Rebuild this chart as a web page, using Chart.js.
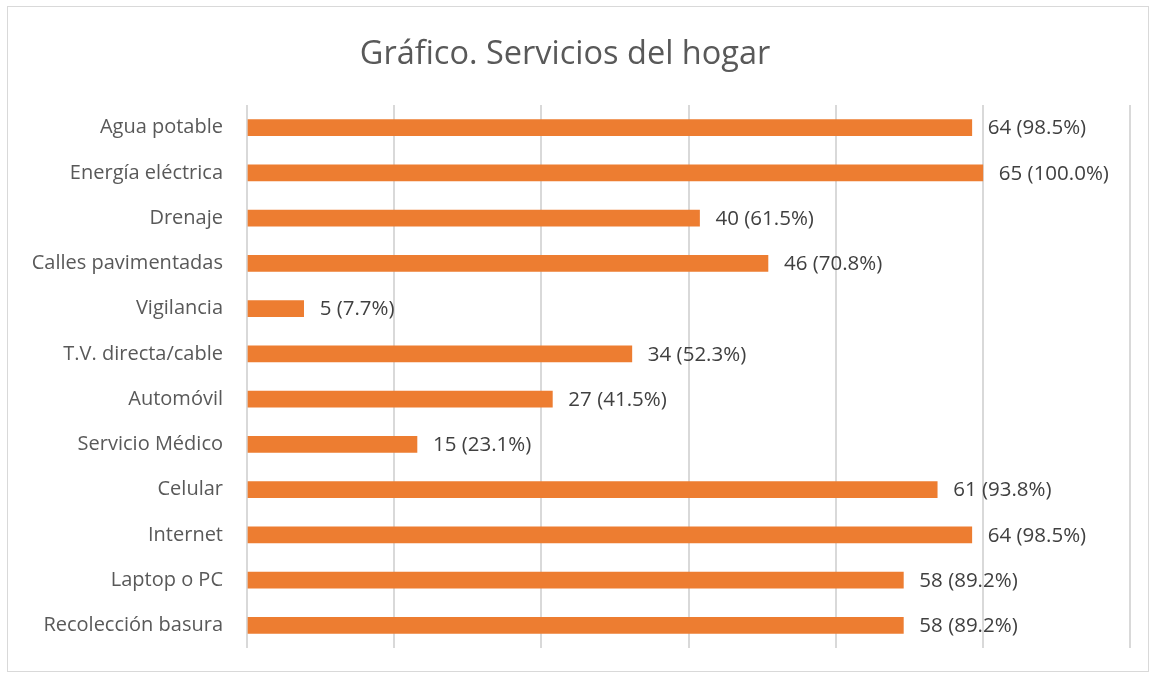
<!DOCTYPE html>
<html lang="es">
<head>
    <meta charset="UTF-8">
    <title>Gráfico. Servicios del hogar</title>
    <script src="https://cdn.jsdelivr.net/npm/chart.js"></script>
    <style>
        html, body { margin: 0; padding: 0; background: #fff; }
        #wrap { position: relative; width: 1156px; height: 675px; }
    </style>
</head>
<body>
<div id="wrap">
    <canvas id="serviciosChart" width="1156" height="675"></canvas>
</div>

<script>
    // Datos
    const categorias = ['Agua potable', 'Energía eléctrica', 'Drenaje', 'Calles pavimentadas', 'Vigilancia',
        'T.V. directa/cable', 'Automóvil', 'Servicio Médico', 'Celular', 'Internet', 'Laptop o PC', 'Recolección basura'];
    const conteos = [64, 65, 40, 46, 5, 34, 27, 15, 61, 64, 58, 58];
    const porcentajes = [98.5, 100.0, 61.5, 70.8, 7.7, 52.3, 41.5, 23.1, 93.8, 98.5, 89.2, 89.2];

    const FONT = '"Open Sans", "Noto Sans", sans-serif';

    // marco gris alrededor del grafico
    const marco = {
        id: 'marco',
        beforeDraw(chart) {
            const ctx = chart.ctx;
            ctx.save();
            ctx.fillStyle = '#fff';
            ctx.fillRect(0, 0, chart.width, chart.height);
            ctx.strokeStyle = '#d9d9d9';
            ctx.lineWidth = 1;
            ctx.strokeRect(7.5, 6.5, 1141, 665);
            ctx.restore();
        }
    };

    // etiquetas "n (p%)" al final de cada barra
    const etiquetas = {
        id: 'etiquetas',
        afterDatasetsDraw(chart) {
            const ctx = chart.ctx;
            const meta = chart.getDatasetMeta(0);
            ctx.save();
            ctx.font = '20.5px ' + FONT;
            ctx.fillStyle = '#404040';
            ctx.textBaseline = 'middle';
            ctx.textAlign = 'left';
            meta.data.forEach((bar, i) => {
                const txt = conteos[i] + ' (' + porcentajes[i].toFixed(1) + '%)';
                ctx.fillText(txt, bar.x + 16, bar.y + 1);
            });
            ctx.restore();
        }
    };

    const ctx = document.getElementById('serviciosChart').getContext('2d');
    new Chart(ctx, {
        type: 'bar',
        data: {
            labels: categorias,
            datasets: [{
                data: porcentajes,
                backgroundColor: '#ED7D31',
                barThickness: 16
            }]
        },
        options: {
            indexAxis: 'y',
            responsive: false,
            animation: false,
            layout: { padding: { left: 0, right: 26, top: 0, bottom: 27 } },
            plugins: {
                legend: { display: false },
                tooltip: { enabled: false },
                title: {
                    display: true,
                    text: 'Gráfico. Servicios del hogar',
                    color: '#595959',
                    font: { family: FONT, size: 32.5, weight: 'normal' },
                    padding: { top: 35.5, bottom: 30.5 }
                }
            },
            scales: {
                x: {
                    min: 0,
                    max: 120,
                    ticks: { display: false, stepSize: 20 },
                    grid: { color: '#d9d9d9', lineWidth: 2, drawTicks: false },
                    border: { display: false },
                    afterFit(scale) { scale.height = 0; }
                },
                y: {
                    grid: { display: false, drawTicks: false },
                    border: { display: false },
                    ticks: {
                        color: '#595959',
                        font: { family: FONT, size: 20 },
                        padding: 24
                    },
                    afterFit(scale) {
                        scale.width = 247;
                        scale.paddingTop = 0;
                        scale.paddingBottom = 0;
                    }
                }
            }
        },
        plugins: [marco, etiquetas]
    });
</script>
</body>
</html>
